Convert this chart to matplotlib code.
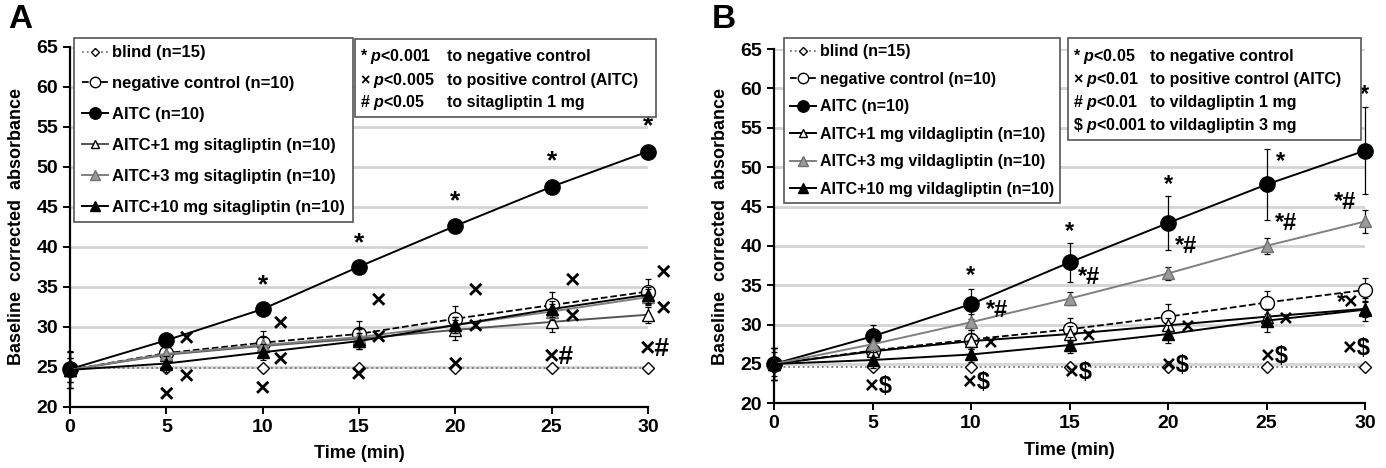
"""Time course of baseline corrected absorbance: sitagliptin (A) and vildagliptin (B)."""
import matplotlib
matplotlib.use("Agg")
import matplotlib.pyplot as plt
from matplotlib.patches import Rectangle

plt.rcParams["font.family"] = ["Liberation Sans", "DejaVu Sans"]
plt.rcParams["font.weight"] = "bold"
plt.rcParams["mathtext.fontset"] = "custom"
plt.rcParams["mathtext.it"] = "Liberation Sans:italic:bold"
plt.rcParams["mathtext.rm"] = "Liberation Sans:bold"

time = [0, 5, 10, 15, 20, 25, 30]

# panel A - sitagliptin
a_blind = [24.8, 24.8, 24.8, 24.8, 24.8, 24.8, 24.8]
a_neg = [24.6, 26.7, 28.0, 29.1, 31.0, 32.7, 34.4]
a_aitc = [24.7, 28.3, 32.2, 37.5, 42.6, 47.5, 51.9]
a_d1 = [24.6, 26.5, 27.6, 28.5, 29.6, 30.6, 31.5]
a_d3 = [24.6, 26.6, 27.7, 28.7, 30.2, 31.9, 33.7]
a_d10 = [24.6, 25.4, 26.8, 28.2, 30.2, 32.2, 34.0]
a_neg_err = [2.3, 1.2, 1.5, 1.6, 1.6, 1.6, 1.6]
a_aitc_err = [2.3, 0.6, 0.6, 0.6, 0.6, 0.6, 0.6]
a_d1_err = [2.2, 1.2, 1.3, 1.3, 1.3, 1.3, 1.0]
a_d3_err = [1.5, 1.0, 1.0, 1.0, 1.0, 1.0, 1.0]
a_d10_err = [1.5, 1.0, 1.0, 1.0, 1.0, 1.0, 1.0]

# panel B - vildagliptin
b_blind = [24.6, 24.6, 24.6, 24.6, 24.6, 24.6, 24.6]
b_neg = [25.0, 26.7, 28.1, 29.4, 31.0, 32.8, 34.4]
b_aitc = [25.0, 28.5, 32.6, 37.9, 42.9, 47.8, 52.1]
b_d1 = [25.0, 26.6, 27.9, 28.8, 29.9, 31.0, 32.0]
b_d3 = [25.0, 27.5, 30.3, 33.3, 36.5, 40.0, 43.1]
b_d10 = [25.0, 25.5, 26.2, 27.4, 28.8, 30.5, 31.9]
b_neg_err = [2.0, 1.2, 1.2, 1.5, 1.6, 1.5, 1.5]
b_aitc_err = [2.0, 1.4, 1.9, 2.5, 3.4, 4.5, 5.5]
b_d1_err = [2.0, 1.0, 1.0, 1.0, 1.0, 1.0, 1.0]
b_d3_err = [1.5, 1.0, 1.0, 0.8, 0.8, 1.0, 1.5]
b_d10_err = [2.0, 1.0, 1.0, 1.0, 1.2, 1.5, 1.5]

# significance marks (x, y, text)
a_marks = [
    (10, 35.2, "*"), (15, 40.4, "*"), (20, 45.7, "*"), (25, 50.7, "*"), (30, 55.0, "*"),
    (5, 21.5, "×"), (6.05, 23.75, "×"), (6.05, 28.4, "×"),
    (10, 22.2, "×"), (10.95, 25.8, "×"), (10.95, 30.3, "×"),
    (15, 23.9, "×"), (16, 28.6, "×"), (16, 33.2, "×"),
    (20, 25.2, "×"), (21.05, 29.9, "×"), (21.05, 34.4, "×"),
    (25.4, 26.25, "×#"), (26.1, 31.2, "×"), (26.1, 35.75, "×"),
    (30.35, 27.2, "×#"), (30.8, 32.2, "×"), (30.8, 36.7, "×"),
]
b_marks = [
    (10, 36.2, "*"), (15, 41.8, "*"), (20, 47.8, "*"), (25.7, 50.7, "*"), (30, 59.2, "*"),
    (11.3, 31.8, "*#"), (16.0, 36.0, "*#"), (20.9, 39.9, "*#"), (26.0, 42.8, "*#"), (29.0, 45.5, "*#"),
    (5.3, 22.1, "×$"), (10.3, 22.7, "×$"), (15.45, 23.9, "×$"), (20.4, 24.8, "×$"),
    (25.4, 25.9, "×$"), (29.55, 26.9, "×$"),
    (11.0, 27.6, "×"), (16.0, 28.5, "×"), (21.0, 29.6, "×"), (26.0, 30.7, "×"),
    (28.8, 32.8, "*"), (29.3, 32.8, "×"),
]

a_labels = ["blind (n=15)", "negative control (n=10)", "AITC (n=10)",
            "AITC+1 mg sitagliptin (n=10)", "AITC+3 mg sitagliptin (n=10)",
            "AITC+10 mg sitagliptin (n=10)"]
b_labels = ["blind (n=15)", "negative control (n=10)", "AITC (n=10)",
            "AITC+1 mg vildagliptin (n=10)", "AITC+3 mg vildagliptin (n=10)",
            "AITC+10 mg vildagliptin (n=10)"]
a_notes = [("*", "$p$<0.001", "to negative control"),
           ("×", "$p$<0.005", "to positive control (AITC)"),
           ("#", "$p$<0.05", "to sitagliptin 1 mg")]
b_notes = [("*", "$p$<0.05", "to negative control"),
           ("×", "$p$<0.01", "to positive control (AITC)"),
           ("#", "$p$<0.01", "to vildagliptin 1 mg"),
           (r"\$", "$p$<0.001", "to vildagliptin 3 mg")]

W, H = 1386, 468


def px(x, y):
    return x / W, 1 - y / H


def draw_panel(ax, blind, series, errs, d1_color, marks, mark_size):
    styles = [
        dict(color="#777777", ls=":", marker="D", mfc="white", mec="black", ms=6, lw=1.3),
        dict(color="black", ls="--", marker="o", mfc="white", mec="black", ms=10, lw=1.3),
        dict(color="black", ls="-", marker="o", mfc="black", mec="black", ms=11, lw=1.4),
        dict(color=d1_color, ls="-", marker="^", mfc="white", mec="black", ms=8, lw=1.4),
        dict(color="#808080", ls="-", marker="^", mfc="#9a9a9a", mec="#707070", ms=9, lw=1.4),
        dict(color="black", ls="-", marker="^", mfc="black", mec="black", ms=9, lw=1.4),
    ]
    all_y = [blind] + series
    handles = []
    for i, (ys, st) in enumerate(zip(all_y, styles)):
        if i > 0:
            ax.errorbar(time, ys, yerr=errs[i - 1], fmt="none", ecolor="black",
                        elinewidth=0.9, capsize=2, capthick=0.9, zorder=2 + i, clip_on=False)
        ln, = ax.plot(time, ys, zorder=3 + i, clip_on=False, **st)
        handles.append(ln)
    for x, y, s in marks:
        ax.text(x, y, s, ha="center", va="center", fontsize=mark_size,
                fontweight="bold", zorder=10, clip_on=False)

    ax.set_xlim(0, 30)
    ax.set_ylim(20, 65)
    ax.set_xticks(time)
    ax.set_yticks(range(20, 66, 5))
    ax.yaxis.grid(True, color="#d4d4d4", lw=2)
    ax.set_axisbelow(True)
    for side in ("top", "right"):
        ax.spines[side].set_visible(False)
    for side in ("left", "bottom"):
        ax.spines[side].set_linewidth(1.6)
    ax.tick_params(axis="both", labelsize=14, width=1.4, length=5, direction="out")
    ax.set_xlabel("Time (min)", fontsize=13, fontweight="bold", labelpad=7)
    ax.set_ylabel("Baseline  corrected  absorbance", fontsize=13, fontweight="bold", labelpad=8)
    return handles


def notes_box(fig, x0, y0, x1, y1, notes, col_x, line_y):
    fig.add_artist(Rectangle(px(x0, y1), (x1 - x0) / W, (y1 - y0) / H,
                             transform=fig.transFigure, fill=True, facecolor="white",
                             edgecolor="#555555", lw=1.2, zorder=20))
    for (sym, p, rest), yy in zip(notes, line_y):
        fig.text(*px(x0 + 5, yy), sym + " " + p, fontsize=11.5, fontweight="bold",
                 va="center", ha="left", zorder=21)
        fig.text(*px(col_x, yy), rest, fontsize=11.5, fontweight="bold",
                 va="center", ha="left", zorder=21)


fig = plt.figure(figsize=(W / 100, H / 100), dpi=100)
ax_a = fig.add_axes([70 / W, 1 - 406.7 / H, 578 / W, 360 / H])
ax_b = fig.add_axes([774 / W, 1 - 403.3 / H, 591 / W, 354.2 / H])

h_a = draw_panel(ax_a, a_blind, [a_neg, a_aitc, a_d1, a_d3, a_d10],
                 [a_neg_err, a_aitc_err, a_d1_err, a_d3_err, a_d10_err],
                 "#555555", a_marks, 19)
h_b = draw_panel(ax_b, b_blind, [b_neg, b_aitc, b_d1, b_d3, b_d10],
                 [b_neg_err, b_aitc_err, b_d1_err, b_d3_err, b_d10_err],
                 "black", b_marks, 17)

leg_a = ax_a.legend(h_a, a_labels, loc="upper left", bbox_to_anchor=px(74, 38),
                    bbox_transform=fig.transFigure, borderaxespad=0, fancybox=False,
                    edgecolor="#555555", framealpha=1, fontsize=12, labelspacing=0.95,
                    handlelength=1.6, handletextpad=0.25, markerscale=0.75, borderpad=0.45)
leg_a.get_frame().set_linewidth(1.2)
leg_a.set_zorder(20)
leg_b = ax_b.legend(h_b, b_labels, loc="upper left", bbox_to_anchor=px(784, 38),
                    bbox_transform=fig.transFigure, borderaxespad=0, fancybox=False,
                    edgecolor="#555555", framealpha=1, fontsize=11.5, labelspacing=0.78,
                    handlelength=1.6, handletextpad=0.25, markerscale=0.75, borderpad=0.4)
leg_b.get_frame().set_linewidth(1.2)
leg_b.set_zorder(20)

notes_box(fig, 355, 39, 656, 117, a_notes, 447, [56, 80, 103])
notes_box(fig, 1068, 38, 1361, 140, b_notes, 1150, [56, 79, 103, 126])

fig.text(*px(8, 20), "A", fontsize=24, fontweight="bold", va="center", ha="left")
fig.text(*px(712, 20), "B", fontsize=24, fontweight="bold", va="center", ha="left")

fig.savefig("out.png", dpi=100)
